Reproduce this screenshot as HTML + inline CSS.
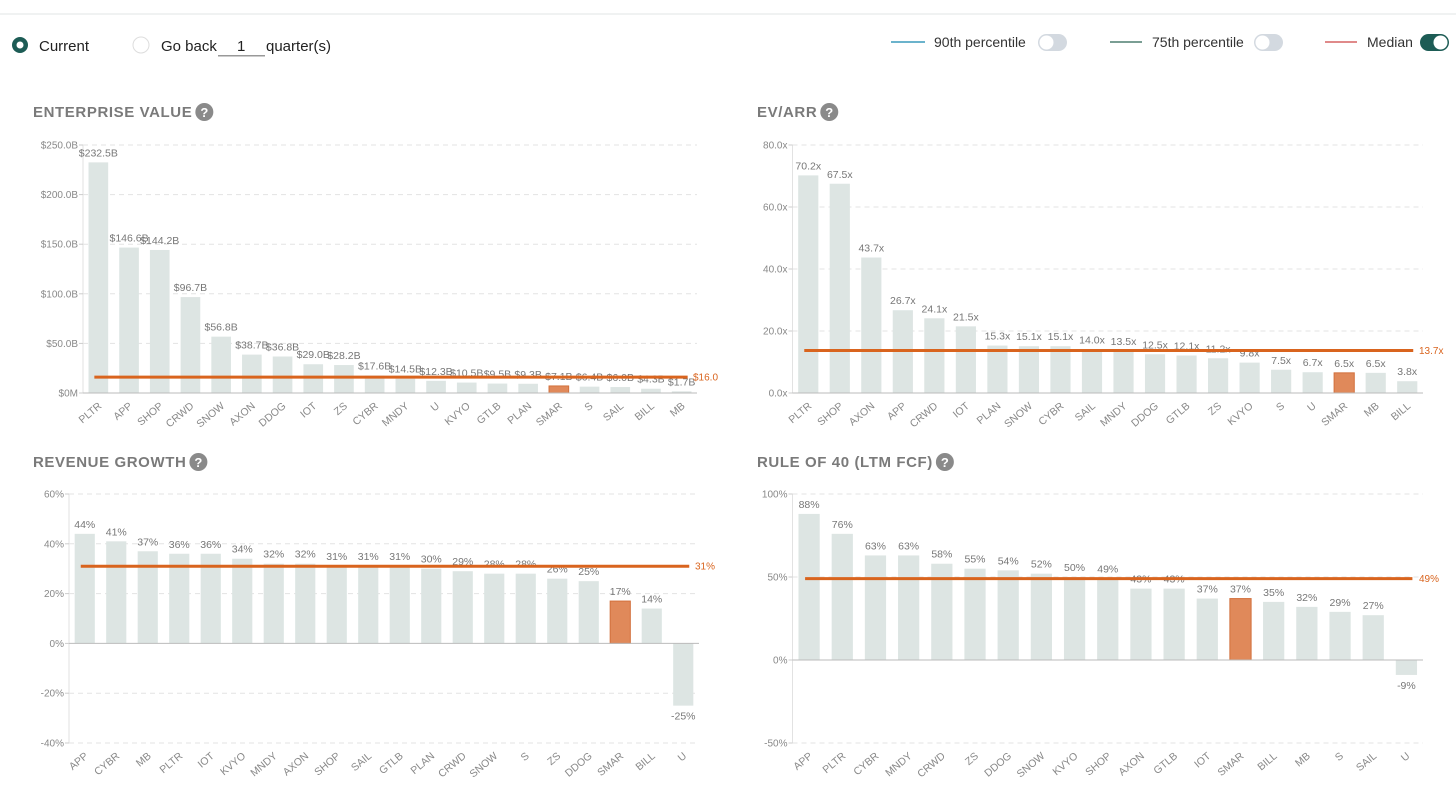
<!DOCTYPE html>
<html><head><meta charset="utf-8"><style>
body{margin:0;background:#fff;width:1456px;height:780px;overflow:hidden;font-family:"Liberation Sans",sans-serif}
svg text{font-family:"Liberation Sans",sans-serif}
</style></head><body>
<svg id="s" width="1456" height="780" viewBox="0 0 1456 780" xmlns="http://www.w3.org/2000/svg">
<rect x="0" y="13" width="1456" height="2" fill="#f0f2f2"/>
<g>
<circle cx="20" cy="45" r="8" fill="#1d5c55"/><circle cx="20" cy="45" r="3.5" fill="#fff"/>
<text x="39" y="51" font-size="15" fill="#222">Current</text></g>
<g>
<circle cx="141" cy="45" r="8" fill="#fff" stroke="#ddd"/>
<text x="161" y="51" font-size="15" fill="#222">Go back</text></g>
<g>
<rect x="218" y="55" width="47" height="1.5" fill="#999"/>
<text x="237" y="51" font-size="15" fill="#222">1</text></g>
<text x="266" y="51" font-size="15" fill="#222">quarter(s)</text>
<g>
<rect x="891" y="41" width="34" height="2" fill="#6bb3cc"/><text x="934" y="47" font-size="14" fill="#333">90th percentile</text></g>
<g><rect x="1038" y="34" width="29" height="17" rx="8.5" fill="#d3d9e0"/><circle cx="1046.5" cy="42.5" r="7" fill="#fff"/></g>
<g>
<rect x="1110" y="41" width="32" height="2" fill="#7a9e94"/><text x="1152" y="47" font-size="14" fill="#333">75th percentile</text></g>
<g><rect x="1254" y="34" width="29" height="17" rx="8.5" fill="#d3d9e0"/><circle cx="1262.5" cy="42.5" r="7" fill="#fff"/></g>
<g>
<rect x="1325" y="41" width="32" height="2" fill="#e08a8a"/><text x="1367" y="47" font-size="14" fill="#333">Median</text></g>
<g><rect x="1420" y="34" width="29" height="17" rx="8.5" fill="#1d5c55"/><circle cx="1440.5" cy="42.5" r="7" fill="#fff"/></g>
</svg>
<script>
const evNames=["PLTR","APP","SHOP","CRWD","SNOW","AXON","DDOG","IOT","ZS","CYBR","MNDY","U","KVYO","GTLB","PLAN","SMAR","S","SAIL","BILL","MB"];
const evValues=[232.5,146.6,144.2,96.7,56.8,38.7,36.8,29.0,28.2,17.6,14.5,12.3,10.5,9.5,9.3,7.1,6.4,6.0,4.3,1.7];
const evTicks=[0,50,100,150,200,250];
const evTickLabels=["$0M","$50.0B","$100.0B","$150.0B","$200.0B","$250.0B"];
const evMedian=16.0;
const arrNames=["PLTR","SHOP","AXON","APP","CRWD","IOT","PLAN","SNOW","CYBR","SAIL","MNDY","DDOG","GTLB","ZS","KVYO","S","U","SMAR","MB","BILL"];
const arrValues=[70.2,67.5,43.7,26.7,24.1,21.5,15.3,15.1,15.1,14.0,13.5,12.5,12.1,11.2,9.8,7.5,6.7,6.5,6.5,3.8];
const arrTicks=[0,20,40,60,80];
const arrTickLabels=["0.0x","20.0x","40.0x","60.0x","80.0x"];
const arrMedian=13.7;
const rgNames=["APP","CYBR","MB","PLTR","IOT","KVYO","MNDY","AXON","SHOP","SAIL","GTLB","PLAN","CRWD","SNOW","S","ZS","DDOG","SMAR","BILL","U"];
const rgValues=[44,41,37,36,36,34,32,32,31,31,31,30,29,28,28,26,25,17,14,-25];
const rgTicks=[-40,-20,0,20,40,60];
const rgTickLabels=["-40%","-20%","0%","20%","40%","60%"];
const rgMedian=31;
const r40Names=["APP","PLTR","CYBR","MNDY","CRWD","ZS","DDOG","SNOW","KVYO","SHOP","AXON","GTLB","IOT","SMAR","BILL","MB","S","SAIL","U"];
const r40Values=[88,76,63,63,58,55,54,52,50,49,43,43,37,37,35,32,29,27,-9];
const r40Ticks=[-50,0,50,100];
const r40TickLabels=["-50%","0%","50%","100%"];
const r40Median=49;

const NS="http://www.w3.org/2000/svg";
const svg=document.getElementById('s');
function mk(tag,attrs,parent,txt){const e=document.createElementNS(NS,tag);for(const k in attrs)e.setAttribute(k,attrs[k]);if(txt!==undefined)e.textContent=txt;parent.appendChild(e);return e;}

function chart(o,names,values,ticks,tickLabels,median,fmt,medFmt){
  const g=mk('g',{},svg);
  
  
  const tt=mk('text',{x:o.tx,y:o.ty,'font-size':15,'font-weight':'bold',fill:'#7a7a7a','letter-spacing':'0.6'},g,o.title);
  
  
  const w=tt.getComputedTextLength();
  const hq=mk('g',{},g);
  
  
  mk('circle',{cx:o.tx+w+12,cy:o.ty-5,r:9,fill:'#8a8a8a'},hq);
  mk('text',{x:o.tx+w+12,y:o.ty,'font-size':13,'font-weight':'bold',fill:'#fff','text-anchor':'middle'},hq,'?');
  const mn=ticks[0],mx=ticks[ticks.length-1];
  const y=v=>o.y0+(v-mn)/(mx-mn)*(o.y1-o.y0);
  const band=(o.x1-o.x0)/names.length;
  const cx=i=>o.x0+band*(i+0.5);
  mk('line',{x1:o.x0,y1:o.y0,x2:o.x0,y2:o.y1,stroke:'#e2e2e2'},g);
  ticks.forEach((t,i)=>{
    if(t!==0){const gl=mk('line',{x1:o.x0,y1:y(t),x2:o.x1,y2:y(t),stroke:'#e3e3e3','stroke-dasharray':'5,4'},g);
      
      }
    mk('line',{x1:o.x0-4,y1:y(t),x2:o.x0,y2:y(t),stroke:'#ccc'},g);
    const tl=mk('text',{x:o.x0-5,y:y(t)+3.5,'font-size':10,fill:'#888','text-anchor':'end'},g,tickLabels[i]);
    
    
  });
  const bw=band*0.64;
  values.forEach((v,i)=>{
    const hi=names[i]==='SMAR';
    const top=Math.min(y(v),y(0)),h=Math.abs(y(v)-y(0));
    const b=mk('rect',{x:cx(i)-bw/2,y:top,width:bw,height:h,fill:hi?'#e0895a':'#dde5e3',stroke:hi?'#d2703c':'none'},g);
    
    
    const vl=mk('text',{x:cx(i),y:v>=0?y(v)-6:y(v)+14,'font-size':10.5,fill:'#777','text-anchor':'middle'},g,fmt(v));
    
    
    const xl=mk('text',{x:cx(i)+4,y:o.y0+14,'font-size':10.5,fill:'#888','text-anchor':'end',transform:`rotate(-40 ${cx(i)+4} ${o.y0+14})`},g,names[i]);
    
    
  });
  mk('line',{x1:o.x0,y1:y(0),x2:o.x1,y2:y(0),stroke:'#bbb'},g);
  const ml=mk('line',{x1:cx(0)-4,y1:y(median),x2:cx(names.length-1)+6,y2:y(median),stroke:'#d9641e','stroke-width':3},g);
  
  
  const mt=mk('text',{x:o.x1-4,y:y(median)+3.5,'font-size':10,fill:'#d9641e'},g,medFmt(median));
  
  
}
chart({id:'enterprise-value-chart',title:'ENTERPRISE VALUE',tx:33,ty:117,x0:83,x1:697,y0:393,y1:145},evNames,evValues,evTicks,evTickLabels,evMedian,v=>'$'+v.toFixed(1)+'B',v=>'$'+v.toFixed(1));
chart({id:'ev-arr-chart',title:'EV/ARR',tx:757,ty:117,x0:792.5,x1:1423,y0:393,y1:145},arrNames,arrValues,arrTicks,arrTickLabels,arrMedian,v=>v.toFixed(1)+'x',v=>v.toFixed(1)+'x');
chart({id:'revenue-growth-chart',title:'REVENUE GROWTH',tx:33,ty:467,x0:69,x1:699,y0:743,y1:494},rgNames,rgValues,rgTicks,rgTickLabels,rgMedian,v=>v+'%',v=>v+'%');
chart({id:'rule-of-40-chart',title:'RULE OF 40 (LTM FCF)',tx:757,ty:467,x0:792.5,x1:1423,y0:743,y1:494},r40Names,r40Values,r40Ticks,r40TickLabels,r40Median,v=>v+'%',v=>v+'%');
</script>
</body></html>
